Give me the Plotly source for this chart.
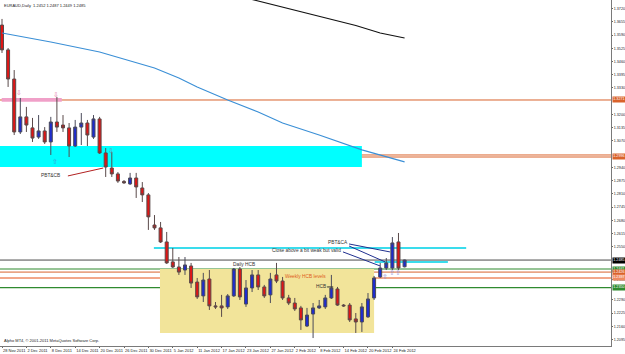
import plotly.graph_objects as go
from datetime import date

# ---------------- data ----------------
dates = ["2011-11-28", "2011-11-29", "2011-11-30", "2011-12-01", "2011-12-02",
         "2011-12-05", "2011-12-06", "2011-12-07", "2011-12-08", "2011-12-09",
         "2011-12-12", "2011-12-13", "2011-12-14", "2011-12-15", "2011-12-16",
         "2011-12-19", "2011-12-20", "2011-12-21", "2011-12-22", "2011-12-23",
         "2011-12-26", "2011-12-27", "2011-12-28", "2011-12-29", "2011-12-30",
         "2012-01-02", "2012-01-03", "2012-01-04", "2012-01-05", "2012-01-06",
         "2012-01-09", "2012-01-10", "2012-01-11", "2012-01-12", "2012-01-13",
         "2012-01-16", "2012-01-17", "2012-01-18", "2012-01-19", "2012-01-20",
         "2012-01-23", "2012-01-24", "2012-01-25", "2012-01-26", "2012-01-27",
         "2012-01-30", "2012-01-31", "2012-02-01", "2012-02-02", "2012-02-03",
         "2012-02-06", "2012-02-07", "2012-02-08", "2012-02-09", "2012-02-10",
         "2012-02-13", "2012-02-14", "2012-02-15", "2012-02-16", "2012-02-17",
         "2012-02-20", "2012-02-21", "2012-02-22", "2012-02-23", "2012-02-24",
         "2012-02-27", "2012-02-28"]

opens = [1.3639, 1.3517, 1.3374, 1.3114, 1.3188, 1.3134, 1.3089, 1.3119, 1.3065, 1.3163,
         1.3148, 1.3134, 1.3045, 1.3138, 1.3158, 1.3089, 1.3178, 1.3011, 1.2937, 1.2908,
         1.2871, 1.2859, 1.2888, 1.2839, 1.2805, 1.2657, 1.2643, 1.2574, 1.2476, 1.2451,
         1.2436, 1.2456, 1.2377, 1.2309, 1.2392, 1.2260, 1.2260, 1.2255, 1.2309, 1.2441,
         1.2269, 1.2348, 1.2412, 1.2353, 1.2314, 1.2412, 1.2382, 1.2299, 1.2274, 1.2250,
         1.2161, 1.2220, 1.2250, 1.2255, 1.2299, 1.2343, 1.2264, 1.2264, 1.2196, 1.2181,
         1.2206, 1.2299, 1.2402, 1.2446, 1.2446, 1.2574, 1.2452]
highs = [1.3669, 1.3526, 1.3418, 1.3281, 1.3237, 1.3183, 1.3197, 1.3138, 1.3188, 1.3286,
         1.3197, 1.3158, 1.3173, 1.3207, 1.3173, 1.3197, 1.3188, 1.3035, 1.3016, 1.2917,
         1.2878, 1.2913, 1.2913, 1.2868, 1.2814, 1.2706, 1.2672, 1.2623, 1.2544, 1.2500,
         1.2500, 1.2471, 1.2397, 1.2422, 1.2436, 1.2279, 1.2314, 1.2318, 1.2446, 1.2451,
         1.2387, 1.2436, 1.2436, 1.2363, 1.2422, 1.2471, 1.2402, 1.2314, 1.2299, 1.2260,
         1.2250, 1.2274, 1.2289, 1.2314, 1.2412, 1.2353, 1.2269, 1.2274, 1.2225, 1.2274,
         1.2323, 1.2407, 1.2471, 1.2495, 1.2598, 1.2618, 1.2487]
lows = [1.3502, 1.3335, 1.3099, 1.3104, 1.3114, 1.3065, 1.3080, 1.3055, 1.3001, 1.3114,
        1.3114, 1.2991, 1.3040, 1.3050, 1.3045, 1.3080, 1.3006, 1.2893, 1.2893, 1.2864,
        1.2859, 1.2854, 1.2790, 1.2770, 1.2633, 1.2633, 1.2569, 1.2466, 1.2446, 1.2412,
        1.2412, 1.2348, 1.2294, 1.2279, 1.2240, 1.2245, 1.2206, 1.2245, 1.2304, 1.2289,
        1.2255, 1.2328, 1.2338, 1.2299, 1.2274, 1.2372, 1.2289, 1.2264, 1.2235, 1.2142,
        1.2156, 1.2102, 1.2245, 1.2245, 1.2294, 1.2260, 1.2255, 1.2181, 1.2127, 1.2132,
        1.2201, 1.2289, 1.2397, 1.2436, 1.2436, 1.2436, 1.2449]
closes = [1.3517, 1.3374, 1.3114, 1.3188, 1.3148, 1.3084, 1.3119, 1.3065, 1.3163, 1.3138,
          1.3134, 1.3045, 1.3138, 1.3158, 1.3099, 1.3178, 1.3011, 1.2942, 1.2908, 1.2873,
          1.2864, 1.2888, 1.2844, 1.2805, 1.2697, 1.2643, 1.2574, 1.2471, 1.2451, 1.2426,
          1.2461, 1.2372, 1.2304, 1.2387, 1.2260, 1.2255, 1.2250, 1.2309, 1.2441, 1.2304,
          1.2348, 1.2412, 1.2353, 1.2309, 1.2392, 1.2382, 1.2299, 1.2274, 1.2245, 1.2191,
          1.2215, 1.2250, 1.2260, 1.2299, 1.2348, 1.2264, 1.2260, 1.2191, 1.2181, 1.2255,
          1.2294, 1.2397, 1.2446, 1.2471, 1.2569, 1.2446, 1.2485]

# moving averages read at selected bars (bar index, price)
ma_blue_bar = [0, 8, 16, 25, 29, 32, 37, 42, 46, 52, 59, 62, 66]
ma_blue_val = [1.3600, 1.3556, 1.3507, 1.3428, 1.3379, 1.3335, 1.3271, 1.3212,
               1.3158, 1.3099, 1.3026, 1.3001, 1.2967]
ma_black_bar = [40, 46, 52, 58, 62, 66]
ma_black_val = [1.3772, 1.3728, 1.3683, 1.3637, 1.3600, 1.3575]

# horizontal price levels
level_prices = [1.3271, 1.3001, 1.2991, 1.2485, 1.2441, 1.2426, 1.2397, 1.2350]
level_kinds = ["orange", "orange", "orange", "bid", "green", "orange", "salmon", "green"]
label_prices = [1.3271, 1.2996, 1.2485, 1.2441, 1.2426, 1.2397, 1.2350]
label_kinds = ["orange", "orange", "bid", "green", "orange", "salmon", "green"]

# zones: (bar start, bar end, price low, price high)
cyan_zone = (-0.4, 59.0, 1.2942, 1.3045)
pink_zone = (-0.05, 9.8, 1.3262, 1.3281)
yellow_zone = (25.9, 61.0, 1.2127, 1.2441)
# cyan short levels: (bar start, bar end, price)
cyan_lines = [(24.9, 76.1, 1.2544), (61.1, 73.1, 1.2476)]

# y axis ticks (those hidden behind price boxes are left out)
y_ticks = [1.2095, 1.2160, 1.2225, 1.2290, 1.2388, 1.2550, 1.2615,
           1.2680, 1.2745, 1.2810, 1.2875, 1.2940, 1.3070, 1.3135, 1.3200,
           1.3330, 1.3395, 1.3460, 1.3525, 1.3590, 1.3655, 1.3720]

# text notes: (text, bar, price, kind)
notes = [("PBT&CB", 7.9, 1.2898, "dark"),
         ("Daily HCB", 39.7, 1.2461, "dark"),
         ("Weekly HCB levels", 49.8, 1.2402, "orangetext"),
         ("HCB", 52.3, 1.2353, "dark"),
         ("PBT&CA", 55.1, 1.2569, "dark"),
         ("Close above a bit weak but valid", 50.0, 1.2530, "dark")]
# pointer lines: (bar0, price0, bar1, price1, kind)
pointers = [(10.8, 1.2898, 16.6, 1.2937, "red"),
            (53.3, 1.2353, 54.3, 1.2353, "dark"),
            (56.9, 1.2564, 63.6, 1.2525, "navy"),
            (56.9, 1.2554, 62.8, 1.2476, "navy"),
            (55.9, 1.2525, 62.0, 1.2456, "navy")]
# arrow marks: (glyph, bar, price, kind)
arrows = [("⇩", 2.8, 1.3305, "pink"), ("⇩", 8.85, 1.3296, "pink"),
          ("⇧", 8.7, 1.2967, "blue"), ("⇩", 17.9, 1.3021, "grey"),
          ("⇧", 62.8, 1.2402, "lav"), ("⇧", 63.9, 1.2422, "lav"), ("⇧", 64.9, 1.2422, "lav")]

# ---------------- styles ----------------
FONT = "Liberation Sans"
col = {"orange": "#D9622B", "salmon": "#EE8A62", "green": "#2F8A2F", "bid": "#4A4A4A",
       "pink": "#E77FAA", "blue": "#3C9BD6", "grey": "#7A8DA8", "lav": "#9090D8",
       "dark": "#333333", "navy": "#1F2F8F", "red": "#B22222", "orangetext": "#E06020"}
lvl_width = {"orange": 1, "salmon": 1.6, "green": 1.2, "bid": 1}

x_idx = list(range(len(dates)))

def fmt(d):
    y, m, dd = map(int, d.split("-"))
    dt = date(y, m, dd)
    return f"{dt.day} {dt.strftime('%b %Y')}"

tick_bars = x_idx[::4]
tick_text = [fmt(dates[i]) for i in tick_bars]

fig = go.Figure()

fig.add_trace(go.Candlestick(
    x=x_idx, open=opens, high=highs, low=lows, close=closes,
    increasing=dict(fillcolor="#1E2CCF", line=dict(color="#4A4A5A", width=1)),
    decreasing=dict(fillcolor="#E01515", line=dict(color="#5A4A4A", width=1)),
    whiskerwidth=0, showlegend=False, hoverinfo="skip"))

fig.add_trace(go.Scatter(x=ma_blue_bar, y=ma_blue_val, mode="lines",
                         line=dict(color="#3A8FD6", width=1.1),
                         showlegend=False, hoverinfo="skip"))
fig.add_trace(go.Scatter(x=ma_black_bar, y=ma_black_val, mode="lines",
                         line=dict(color="#111111", width=1.1),
                         showlegend=False, hoverinfo="skip"))

shapes = []
for (x0, x1, y0, y1), c in [(yellow_zone, "#F2E49A"), (cyan_zone, "#00FFFF"), (pink_zone, "#F0A0C8")]:
    shapes.append(dict(type="rect", xref="x", yref="y", x0=x0, x1=x1, y0=y0, y1=y1,
                       fillcolor=c, line=dict(width=0), layer="below"))
for p, k in zip(level_prices, level_kinds):
    shapes.append(dict(type="line", xref="paper", yref="y", x0=0, x1=1, y0=p, y1=p,
                       line=dict(color=col[k], width=lvl_width[k]), layer="below"))
for x0, x1, p in cyan_lines:
    shapes.append(dict(type="line", xref="x", yref="y", x0=x0, x1=x1, y0=p, y1=p,
                       line=dict(color="#3ADCEC", width=2), layer="below"))
for x0, y0, x1, y1, k in pointers:
    shapes.append(dict(type="line", xref="x", yref="y", x0=x0, x1=x1, y0=y0, y1=y1,
                       line=dict(color=col[k], width=1)))

ann = []
for t, xb, p, k in notes:
    ann.append(dict(text=t, x=xb, y=p, xref="x", yref="y", showarrow=False,
                    font=dict(family=FONT, size=4.8, color=col[k])))
for g, xb, p, k in arrows:
    ann.append(dict(text=g, x=xb, y=p, xref="x", yref="y", showarrow=False,
                    font=dict(family="DejaVu Sans", size=7, color=col[k])))
for p, k in zip(label_prices, label_kinds):
    ann.append(dict(text=f"{p:.4f}", x=1, y=p, xref="paper", yref="y", xanchor="left",
                    yanchor="middle", showarrow=False,
                    bgcolor=col[k] if k != "bid" else "#000000",
                    borderpad=0.3, xshift=1,
                    font=dict(family=FONT, size=3.7, color="#FFFFFF")))
ann.append(dict(text="EURAUD,Daily  1.2452 1.2487 1.2449 1.2485", x=0.004, y=0.997,
                xref="paper", yref="paper", xanchor="left", yanchor="top", showarrow=False,
                font=dict(family=FONT, size=4, color="#222222")))
ann.append(dict(text="Alpho MT4, © 2001-2011 MetaQuotes Software Corp.", x=0.003, y=0.0,
                xref="paper", yref="paper", xanchor="left", yanchor="bottom", yshift=1,
                showarrow=False, font=dict(family=FONT, size=4, color="#222222")))

fig.update_layout(
    template="none",
    width=625, height=354,
    margin=dict(l=0, r=14, t=0, b=8, autoexpand=False),
    paper_bgcolor="#FFFFFF", plot_bgcolor="#FFFFFF",
    font=dict(family=FONT, size=4, color="#222222"),
    shapes=shapes, annotations=ann, showlegend=False,
    xaxis=dict(range=[-0.328, 99.84], tickmode="array", tickvals=tick_bars, ticktext=tick_text,
               tickangle=0, ticks="outside", ticklen=1, tickcolor="#666666",
               ticklabelposition="outside right",
               tickfont=dict(family=FONT, size=4, color="#222222"),
               showline=True, linecolor="#7A7A7A", linewidth=1, mirror=True,
               showgrid=False, zeroline=False, rangeslider=dict(visible=False),
               automargin=False),
    yaxis=dict(range=[1.2063, 1.3762], side="right", tickmode="array", tickvals=y_ticks,
               ticktext=[f"{v:.4f}" for v in y_ticks], ticks="outside", ticklen=1,
               tickcolor="#666666", tickfont=dict(family=FONT, size=3.7, color="#222222"),
               showline=True, linecolor="#7A7A7A", linewidth=1, mirror=True,
               showgrid=False, zeroline=False, automargin=False),
)

fig.write_html("out.html")
